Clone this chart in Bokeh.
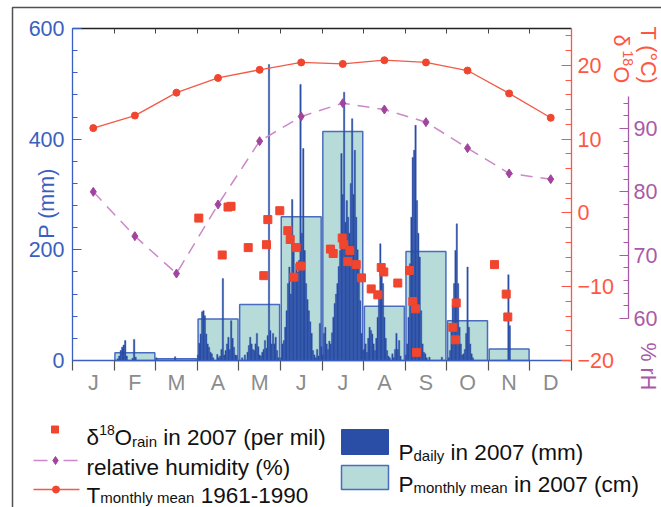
import math
from bokeh.plotting import figure
from bokeh.models import Range1d, LinearAxis, FixedTicker
from bokeh.embed import file_html
from bokeh.resources import INLINE
from bokeh.core.properties import value

# ---------------- data ----------------
months = ["J", "F", "M", "A", "M", "J", "J", "A", "S", "O", "N", "D"]
days_in_month = [31, 28, 31, 30, 31, 30, 31, 31, 30, 31, 30, 31]

t_monthly_mean = [11.5, 13.2, 16.3, 18.3, 19.4, 20.4, 20.2, 20.7, 20.4, 19.3, 16.2, 12.9]
rh_monthly = [80.0, 73.0, 67.1, 78.0, 88.0, 91.9, 94.0, 93.0, 91.0, 86.9, 82.9, 82.0]
p_monthly_mean = [0, 14, 3, 75, 101, 260, 414, 98, 197, 72, 21, 0]

# daily precipitation 2007 (mm), {day: mm} per month
p_daily_jan = {}
p_daily_feb = {3: 3, 4: 8, 5: 18, 6: 24, 7: 28, 8: 36, 9: 8, 13: 4, 14: 38, 15: 6}
p_daily_mar = {1: 5, 15: 7}
p_daily_apr = {1: 10, 2: 31, 3: 48, 4: 88, 5: 90, 6: 81, 7: 48, 8: 30, 9: 24, 10: 15,
               11: 12, 12: 5, 15: 11, 16: 5, 17: 8, 18: 20, 19: 148, 20: 10, 21: 18,
               22: 30, 23: 42, 24: 20, 25: 72, 26: 40, 27: 24, 28: 10, 29: 9}
p_daily_may = {3: 5, 5: 10, 7: 15, 8: 27, 9: 42, 10: 30, 11: 20, 12: 18, 13: 30, 14: 49,
               15: 25, 16: 10, 17: 8, 18: 15, 19: 20, 20: 36, 21: 22, 22: 45, 23: 535,
               24: 54, 25: 30, 26: 49, 27: 30, 28: 42, 29: 18, 30: 5}
p_daily_jun = {1: 5, 2: 30, 3: 36, 4: 60, 5: 90, 6: 139, 7: 169, 8: 120, 9: 291, 10: 199,
               11: 151, 12: 175, 13: 160, 14: 181, 15: 499, 16: 230, 17: 383, 18: 199,
               19: 139, 20: 110, 21: 90, 22: 70, 23: 49, 24: 18, 25: 10, 26: 5, 27: 20,
               28: 8, 29: 67, 30: 25}
p_daily_jul = {1: 10, 2: 49, 3: 60, 4: 30, 5: 20, 6: 35, 7: 30, 8: 50, 9: 78, 10: 103,
               11: 120, 12: 139, 13: 170, 14: 199, 15: 374, 16: 300, 17: 485, 18: 250,
               19: 289, 20: 259, 21: 230, 22: 320, 23: 437, 24: 300, 25: 380, 26: 259,
               27: 200, 28: 169, 29: 108, 30: 49, 31: 18}
p_daily_aug = {1: 20, 2: 30, 3: 15, 4: 40, 5: 60, 6: 54, 7: 48, 8: 30, 9: 18, 10: 40,
               11: 78, 12: 121, 13: 211, 14: 160, 15: 139, 16: 78, 17: 40, 18: 18, 19: 8,
               20: 5, 22: 12, 23: 5, 24: 20, 25: 49, 26: 20, 27: 36, 28: 8}
p_daily_sep = {1: 10, 2: 30, 3: 78, 4: 175, 5: 259, 6: 367, 7: 380, 8: 425, 9: 289,
               10: 230, 11: 187, 12: 90, 13: 30, 14: 15, 15: 12, 16: 5, 18: 6, 27: 6}
p_daily_oct = {2: 5, 3: 18, 4: 60, 5: 100, 6: 139, 7: 199, 8: 247, 9: 139, 10: 60,
               11: 30, 12: 10, 13: 12, 14: 20, 15: 49, 16: 169, 17: 60, 18: 30, 19: 12, 20: 5}
p_daily_nov = {15: 155, 16: 63}
p_daily_dec = {}
p_daily = [p_daily_jan, p_daily_feb, p_daily_mar, p_daily_apr, p_daily_may, p_daily_jun,
           p_daily_jul, p_daily_aug, p_daily_sep, p_daily_oct, p_daily_nov, p_daily_dec]

# d18O of rain 2007: position in months (0 = 1 Jan, 12 = 31 Dec) and value (per mil)
d18o_pos = [3.037, 3.600, 3.740, 3.812, 4.225, 4.600, 4.665, 4.697, 4.985, 5.178, 5.235,
            5.322, 5.380, 5.483, 6.204, 6.269, 6.486, 6.524, 6.621, 6.669, 6.823, 6.950,
            7.183, 7.342, 7.424, 7.486, 7.823, 8.104, 8.184, 8.249, 8.273, 9.146, 9.211,
            9.228, 10.148, 10.430, 10.468]
d18o_val = [-0.7, -5.7, 0.8, 0.9, -4.7, -8.5, -4.3, -0.9, 0.3, -2.4, -3.6,
            -8.7, -4.7, -7.2, -4.9, -5.5, -3.4, -4.3, -6.6, -5.1, -7.0, -8.8,
            -10.3, -11.1, -7.4, -8.0, -9.5, -7.8, -12.0, -13.0, -18.9, -15.5, -17.2,
            -12.2, -7.0, -11.0, -14.1]

# ---------------- layout / style ----------------
W, H = 661, 507
FX0, FX1, FY0, FY1 = 72, 571, 28, 360      # data area in page pixels (left, right, top, bottom)
RH_X = 628                                  # page x of the humidity axis
P_MAX, T_MIN, T_MAX, RH_LO_PX, RH_HI_PX = 600, -20, 25, 318, 128   # rh 60 at 318 px, 90 at 128 px

FONT = "Liberation Sans"
BLUE = "#3b5fc0"
DARK_BLUE = "#2a4ea6"
TEAL = "#b7dbd9"
RED = "#f0452e"
RED_AX = "#ff5545"
PURPLE = "#a2449f"
PURPLE_LINE = "#cc88c8"
PURPLE_AX = "#a85aa8"
GRAY = "#8c8c8c"
TICK_FS = "21.5px"

mw = (FX1 - FX0) / 12.0
def lin(a_px, a_val, b_px, b_val, px):
    return a_val + (px - a_px) * (b_val - a_val) / (b_px - a_px)

x_rng = Range1d(lin(FX0, 0, FX1, 12, 0), lin(FX0, 0, FX1, 12, W))
y_rng = Range1d(lin(FY1, 0, FY0, P_MAX, H), lin(FY1, 0, FY0, P_MAX, 0))

p = figure(width=W, height=H, x_range=x_rng, y_range=y_rng,
           x_axis_type=None, y_axis_type=None,
           output_backend="svg", toolbar_location=None,
           min_border=0, min_border_left=0, min_border_right=0, min_border_top=0, min_border_bottom=0)
p.extra_y_ranges = {
    "T": Range1d(lin(FY1, T_MIN, FY0, T_MAX, H), lin(FY1, T_MIN, FY0, T_MAX, 0)),
    "rh": Range1d(lin(RH_LO_PX, 60, RH_HI_PX, 90, H), lin(RH_LO_PX, 60, RH_HI_PX, 90, 0)),
    "py": Range1d(H, 0),
}
p.extra_x_ranges = {"px": Range1d(0, W)}
p.outline_line_color = None
p.background_fill_color = "white"
p.border_fill_color = "white"

month_centers = [i + 0.5 for i in range(12)]

# page border
p.line(x=[12, 12, W], y=[H, 7, 7], x_range_name="px", y_range_name="py",
       line_color="#505050", line_width=1.5)

# monthly precipitation boxes
mx = [month_centers[i] for i in range(12) if p_monthly_mean[i] > 0]
mt = [p_monthly_mean[i] for i in range(12) if p_monthly_mean[i] > 0]
p.vbar(x=mx, top=mt, bottom=0, width=0.96, fill_color=TEAL, line_color="#4a6cc0", line_width=1.5)

# daily precipitation bars
dx, dt, dw = [], [], []
for m, dd in enumerate(p_daily):
    n = days_in_month[m]
    for d, v in dd.items():
        dx.append(m + (d - 0.5) / n)
        dt.append(v)
        dw.append(1.0 / n)
p.vbar(x=dx, top=dt, bottom=0, width=dw, fill_color=DARK_BLUE, line_color=DARK_BLUE,
       line_width=0.4)

# d18O
p.scatter(x=d18o_pos, y=d18o_val, y_range_name="T", marker="square", size=8,
          fill_color=RED, line_color=RED)

# relative humidity
p.line(x=month_centers, y=rh_monthly, y_range_name="rh", line_color=PURPLE_LINE,
       line_width=1.5, line_dash="12 8")
p.scatter(x=month_centers, y=rh_monthly, y_range_name="rh", marker="diamond", size=9,
          fill_color=PURPLE, line_color=PURPLE)

# temperature
p.line(x=month_centers, y=t_monthly_mean, y_range_name="T", line_color="#f25a48", line_width=1.3)
p.scatter(x=month_centers, y=t_monthly_mean, y_range_name="T", marker="circle", size=7,
          fill_color=RED, line_color=RED)

# ---- axes (drawn at fixed locations) ----
xa = LinearAxis(fixed_location=0, bounds=(0, 12),
                ticker=FixedTicker(ticks=month_centers, minor_ticks=list(range(13))))
xa.major_label_overrides = {c: months[i] for i, c in enumerate(month_centers)}
xa.major_tick_in = 0
xa.major_tick_out = 0
xa.minor_tick_in = 0
xa.minor_tick_out = 10
xa.minor_tick_line_color = "#555555"
xa.minor_tick_line_width = 1.2
xa.axis_line_color = BLUE
xa.axis_line_width = 1.5
xa.major_label_text_color = GRAY
xa.major_label_text_font = FONT
xa.major_label_text_font_size = TICK_FS
xa.major_label_standoff = 0
p.add_layout(xa, "below")

top = LinearAxis(fixed_location=P_MAX, bounds=(0, 12),
                 ticker=FixedTicker(ticks=[], minor_ticks=list(range(1, 12))))
top.axis_line_color = "#222222"
top.axis_line_width = 1.3
top.minor_tick_line_color = "#444444"
top.minor_tick_in = 5
top.minor_tick_out = 0
top.major_tick_line_color = None
p.add_layout(top, "above")

ya = LinearAxis(fixed_location=0, bounds=(0, P_MAX),
                ticker=FixedTicker(ticks=[0, 200, 400, 600], minor_ticks=list(range(0, 601, 40))))
ya.axis_line_color = BLUE
ya.axis_line_width = 1.3
ya.major_tick_line_color = BLUE
ya.minor_tick_line_color = BLUE
ya.major_tick_in = 9
ya.major_tick_out = 0
ya.minor_tick_in = 5
ya.minor_tick_out = 0
ya.major_label_text_color = BLUE
ya.major_label_text_font = FONT
ya.major_label_text_font_size = TICK_FS
ya.major_label_standoff = 8
p.add_layout(ya, "left")

ax_t = LinearAxis(y_range_name="T", fixed_location=12, bounds=(T_MIN, T_MAX),
                  ticker=FixedTicker(ticks=[-20, -10, 0, 10, 20], minor_ticks=list(range(-20, 26, 2))))
ax_t.axis_line_color = RED_AX
ax_t.axis_line_width = 1.3
ax_t.major_tick_line_color = RED_AX
ax_t.minor_tick_line_color = RED_AX
ax_t.major_tick_in = 10
ax_t.major_tick_out = 0
ax_t.minor_tick_in = 6
ax_t.minor_tick_out = 0
ax_t.major_label_text_color = RED_AX
ax_t.major_label_text_font = FONT
ax_t.major_label_text_font_size = TICK_FS
ax_t.major_label_standoff = 6
p.add_layout(ax_t, "right")

ax_rh = LinearAxis(y_range_name="rh", fixed_location=(RH_X - FX0) / mw, bounds=(60, 95),
                   ticker=FixedTicker(ticks=[60, 70, 80, 90], minor_ticks=list(range(60, 96, 2))))
ax_rh.axis_line_color = PURPLE_AX
ax_rh.axis_line_width = 1.3
ax_rh.major_tick_line_color = PURPLE_AX
ax_rh.minor_tick_line_color = PURPLE_AX
ax_rh.major_tick_in = 9
ax_rh.major_tick_out = 0
ax_rh.minor_tick_in = 5
ax_rh.minor_tick_out = 0
ax_rh.major_label_text_color = PURPLE_AX
ax_rh.major_label_text_font = FONT
ax_rh.major_label_text_font_size = TICK_FS
ax_rh.major_label_standoff = 5
p.add_layout(ax_rh, "right")

# ---- axis titles ----
def titles(texts, xs, ys, color, sizes, angle):
    p.text(x=xs, y=ys, text=texts, x_range_name="px", y_range_name="py", angle=angle,
           text_align="left", text_baseline="middle", text_color=color,
           text_font=value(FONT), text_font_size=sizes)

p.text(x=[46], y=[203], text=["P (mm)"], x_range_name="px", y_range_name="py", angle=math.pi / 2,
       text_align="center", text_baseline="middle", text_color=BLUE,
       text_font=value(FONT), text_font_size=value(TICK_FS))
titles(["δ", "18", "O"], [620, 627, 620], [34, 50, 66], RED_AX, ["21.5px", "14px", "21.5px"], -math.pi / 2)
titles(["T (°C)"], [647], [26], RED_AX, ["21.5px"], -math.pi / 2)
titles(["% rH"], [647], [342], PURPLE_AX, ["21.5px"], -math.pi / 2)

# ---------------- legend (page pixel coordinates) ----------------
kw = dict(x_range_name="px", y_range_name="py")
p.scatter(x=[54.5], y=[429], marker="square", size=7, fill_color=RED, line_color=RED, **kw)
p.segment(x0=[33, 63], y0=[460, 460], x1=[47, 77], y1=[460, 460], line_color=PURPLE_LINE,
          line_width=1.5, **kw)
p.scatter(x=[55], y=[460], marker="diamond", size=8, fill_color=PURPLE, line_color=PURPLE, **kw)
p.line(x=[33, 79], y=[489, 489], line_color="#f25a48", line_width=1.3, **kw)
p.scatter(x=[55.5], y=[489], marker="circle", size=7, fill_color=RED, line_color=RED, **kw)
p.quad(left=[341], right=[388], top=[429], bottom=[454], fill_color=DARK_BLUE,
       line_color=DARK_BLUE, **kw)
p.quad(left=[341], right=[388], top=[465], bottom=[489], fill_color=TEAL, line_color="#4a6cc0",
       line_width=1.5, **kw)

LEG = "22.5px"
SUB = "15px"
leg_text = ["δ", "18", "O", "rain", "in 2007 (per mil)",
            "relative humidity (%)",
            "T", "monthly mean", "1961-1990",
            "P", "daily", "in 2007 (mm)",
            "P", "monthly mean", "in 2007 (cm)"]
leg_x = [86, 98.8, 114, 131.5, 162.8,
         86,
         86, 99.7, 200.2,
         398, 413, 450.1,
         398, 413, 513.5]
leg_y = [437, 429, 437, 441, 437,
         467,
         495, 497, 495,
         452, 455, 452,
         484, 487, 484]
leg_size = [LEG, "14px", LEG, SUB, LEG,
            LEG,
            LEG, SUB, LEG,
            LEG, SUB, LEG,
            LEG, SUB, LEG]
p.text(x=leg_x, y=leg_y, text=leg_text, text_font=value(FONT), text_font_size=leg_size,
       text_baseline="alphabetic", text_align="left", text_color="#111111", **kw)

open("out.html", "w").write(file_html(p, INLINE))
